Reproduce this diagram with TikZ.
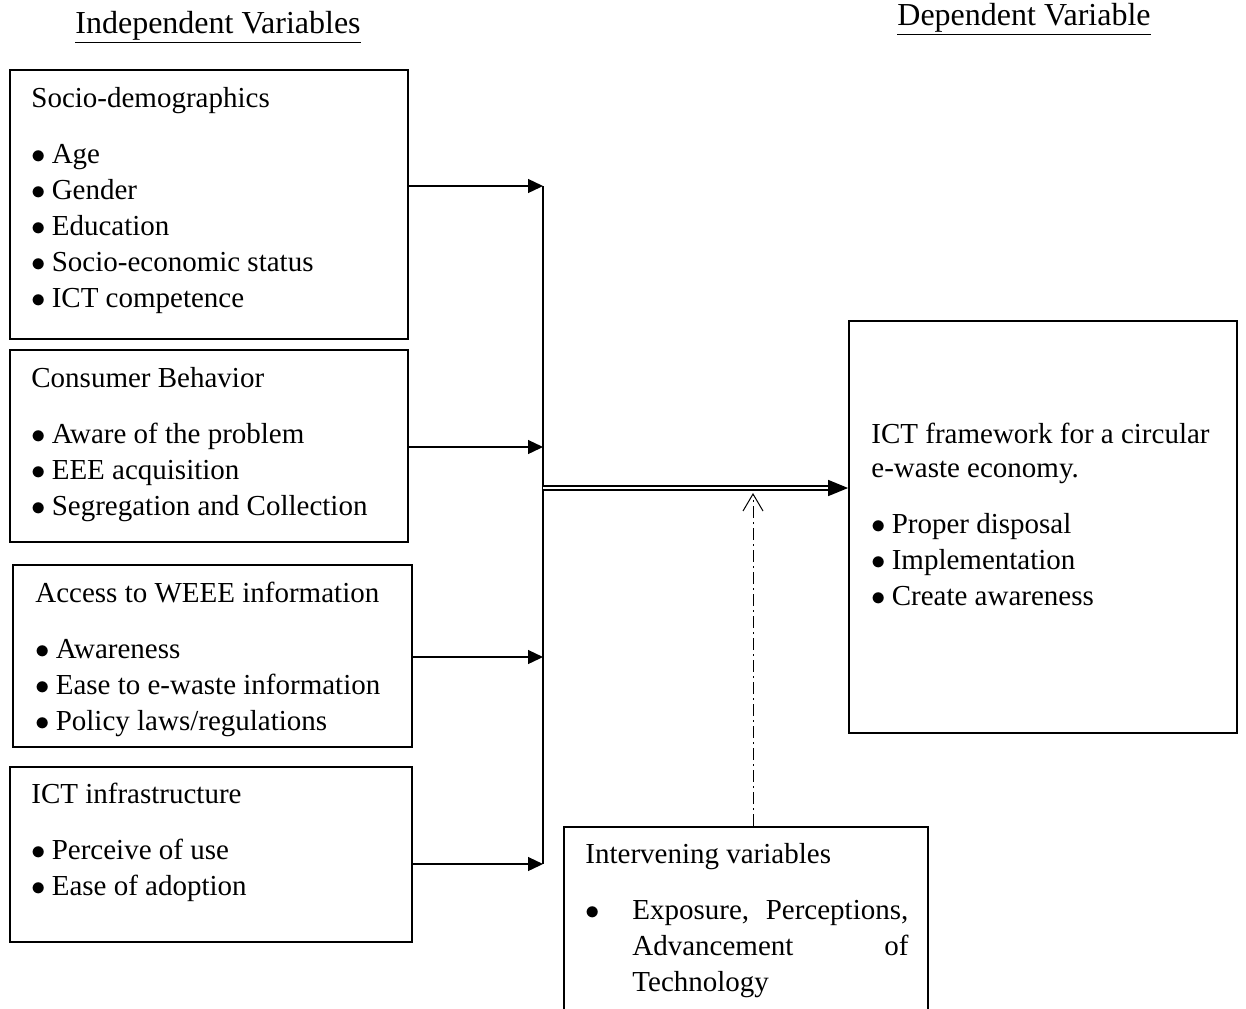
\documentclass[tikz,border=0pt]{standalone}
\usepackage{fontspec}
\setmainfont{Liberation Serif}
\usetikzlibrary{positioning, fit, arrows.meta}

\newcommand{\bul}{$\bullet$\hspace{3pt}}

\tikzset{
  varbox/.style={draw=black, line width=0.9pt, rectangle, inner sep=0pt},
  boxtext/.style={anchor=base west, align=left, inner sep=0pt, text width=180pt, font=\fontsize{14.5}{18}\selectfont,
    execute at begin node={\spaceskip=0pt\xspaceskip=0pt}},
  heading/.style={anchor=base west, inner sep=0pt, font=\fontsize{16}{18}\selectfont},
  link/.style={draw=black, line width=0.65pt},
  linkarrow/.style={link, -{Triangle[length=7.5pt, width=7pt]}},
  mainarrow/.style={draw=black, line width=0.75pt, double, double distance=1.1pt, -{Triangle[length=10pt, width=8pt]}},
  intervarrow/.style={draw=black, line width=0.5pt, dash pattern=on 6pt off 2pt on 1pt off 2pt, -{Straight Barb[length=8.5pt, width=10pt]}}
}

\begin{document}
\begin{tikzpicture}[x=0.5pt, y=-0.5pt]
  \useasboundingbox (0,0) rectangle (1246,1008); % page in pixel units

  % headings
  \node[heading] (indep) at (75,33) {\underline{Independent Variables}};
  \node[heading] (dep) at (897,25) {\underline{Dependent Variable}};

  % boxes
  \node[varbox, fit={(10,70) (408,339)}] (socio) {};
  \node[varbox, fit={(10,350) (408,542)}] (consumer) {};
  \node[varbox, fit={(13,565) (412,747)}] (access) {};
  \node[varbox, fit={(10,767) (412,942)}] (infra) {};
  \node[varbox, fit={(849,321) (1237,733)}] (ictframe) {};
  \node[varbox, fit={(564,827) (928,1015)}] (interv) {};

  \node[boxtext] (sociotxt) at (31,107) {Socio-demographics\\[10pt]
    \bul Age\\ \bul Gender\\ \bul Education\\
    \bul Socio-economic status\\ \bul ICT competence};
  \node[boxtext] (consumertxt) at (31,387) {Consumer Behavior\\[10pt]
    \bul Aware of the problem\\ \bul EEE acquisition\\
    \bul Segregation and Collection};
  \node[boxtext] (accesstxt) at (35,602) {Access to WEEE information\\[10pt]
    \bul Awareness\\ \bul Ease to e-waste information\\
    \bul Policy laws/regulations};
  \node[boxtext] (infratxt) at (31,803) {ICT infrastructure\\[10pt]
    \bul Perceive of use\\ \bul Ease of adoption};
  \node[boxtext, text width=176pt] (ictframetxt) at (871,443) {ICT framework for a circular\\[-1pt]
    e-waste economy.\\[10pt]
    \bul Proper disposal\\ \bul Implementation\\ \bul Create awareness};
  \node[boxtext, text width=172pt] (intervtxt) at (585,863) {Intervening variables\\[10pt]
    \makebox[23.5pt][l]{$\bullet$}\parbox[t]{138pt}{\leftskip=0pt\rightskip=0pt\parfillskip=0pt plus 1fil
    Exposure, Perceptions,\linebreak Advancement of\linebreak Technology}};

  % connectors
  \coordinate (j1) at (543,186);
  \coordinate (j2) at (543,447);
  \coordinate (j3) at (543,657);
  \coordinate (j4) at (543,864);
  \coordinate (jm) at (543,488);
  \coordinate (dtip) at (753,493);

  \draw[link] (j1) -- (j4);
  \draw[linkarrow] (socio.east |- j1) -- (j1);
  \draw[linkarrow] (consumer.east |- j2) -- (j2);
  \draw[linkarrow] (access.east |- j3) -- (j3);
  \draw[linkarrow] (infra.east |- j4) -- (j4);
  \draw[mainarrow] (jm) -- (jm -| ictframe.west);
  \draw[intervarrow] (dtip |- interv.north) -- (dtip);
\end{tikzpicture}
\end{document}
